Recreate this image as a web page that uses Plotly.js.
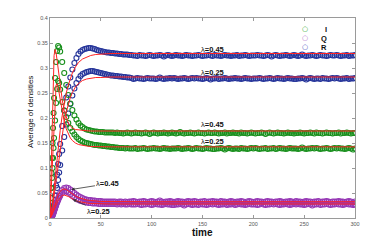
<!DOCTYPE html>
<html><head><meta charset="utf-8">
<script src="https://cdn.plot.ly/plotly-3.0.1.min.js"></script>
<style>html,body{margin:0;padding:0;background:#fff}#c{width:392px;height:245px}</style>
</head><body><div id="c"></div>
<script>
// simulation sampling times
const time = [0,0.5,1,1.5,2,2.5,3,3.5,4,5,
6,7,8,9,10,12,14,16,18,20,
22,24,26,28,30,32,34,36,38,40,
42,44,46,48,50,52,54,56,58,60,
62,64,66,68,70,72,74,76,78,80,
82,84,86,88,90,92,94,96,98,100,
102,104,106,108,110,112,114,116,118,120,
122,124,126,128,130,132,134,136,138,140,
142,144,146,148,150,152,154,156,158,160,
162,164,166,168,170,172,174,176,178,180,
182,184,186,188,190,192,194,196,198,200,
202,204,206,208,210,212,214,216,218,220,
222,224,226,228,230,232,234,236,238,240,
242,244,246,248,250,252,254,256,258,260,
262,264,266,268,270,272,274,276,278,280,
282,284,286,288,290,292,294,296,298,300];

// I simulation (lambda = 0.45 / 0.25)
const simI45 = [0.005,0.03,0.06,0.09,0.12,0.15,0.18,0.21,0.24,0.28,
0.312,0.334,0.344,0.341,0.333,0.312,0.29,0.266,0.246,0.229,
0.216,0.205,0.197,0.19,0.185,0.182,0.179,0.177,0.176,0.175,
0.174,0.173,0.173,0.172,0.172,0.172,0.171,0.171,0.171,0.171,
0.171,0.170,0.171,0.170,0.170,0.169,0.170,0.171,0.170,0.169,
0.170,0.171,0.170,0.170,0.169,0.170,0.171,0.170,0.168,0.170,
0.171,0.170,0.169,0.170,0.170,0.171,0.170,0.169,0.170,0.171,
0.170,0.169,0.170,0.172,0.170,0.169,0.170,0.170,0.171,0.170,
0.169,0.170,0.171,0.170,0.170,0.169,0.170,0.171,0.170,0.170,
0.171,0.170,0.169,0.170,0.170,0.171,0.169,0.170,0.170,0.171,
0.170,0.170,0.169,0.171,0.170,0.170,0.169,0.170,0.171,0.170,
0.169,0.170,0.170,0.171,0.170,0.168,0.170,0.171,0.170,0.169,
0.170,0.171,0.170,0.170,0.169,0.170,0.171,0.170,0.170,0.169,
0.170,0.170,0.171,0.170,0.169,0.170,0.170,0.171,0.170,0.169,
0.171,0.170,0.170,0.169,0.170,0.171,0.170,0.170,0.169,0.170,
0.170,0.171,0.169,0.170,0.170,0.171,0.170,0.169,0.170,0.170];
const simI25 = [0.005,0.02,0.04,0.06,0.08,0.10,0.12,0.14,0.16,0.195,
0.23,0.258,0.274,0.27,0.257,0.232,0.215,0.202,0.19,0.18,
0.173,0.167,0.162,0.158,0.155,0.153,0.151,0.15,0.149,0.148,
0.147,0.146,0.146,0.145,0.145,0.144,0.144,0.143,0.143,0.142,
0.142,0.141,0.141,0.140,0.140,0.140,0.139,0.140,0.139,0.139,
0.139,0.140,0.138,0.139,0.139,0.140,0.139,0.138,0.139,0.139,
0.140,0.139,0.139,0.138,0.139,0.140,0.139,0.139,0.138,0.139,
0.139,0.139,0.140,0.139,0.138,0.139,0.139,0.140,0.139,0.138,
0.139,0.140,0.139,0.139,0.138,0.139,0.140,0.139,0.139,0.138,
0.138,0.139,0.139,0.140,0.139,0.137,0.139,0.140,0.139,0.138,
0.139,0.139,0.138,0.140,0.139,0.139,0.138,0.139,0.140,0.139,
0.140,0.139,0.138,0.139,0.139,0.140,0.138,0.139,0.139,0.140,
0.138,0.139,0.140,0.139,0.139,0.138,0.139,0.140,0.139,0.139,
0.139,0.138,0.139,0.141,0.139,0.138,0.139,0.139,0.140,0.139,
0.140,0.139,0.138,0.139,0.139,0.140,0.139,0.138,0.139,0.140,
0.139,0.140,0.139,0.139,0.138,0.139,0.140,0.139,0.137,0.139];
// R simulation
const simR45 = [0,0.001,0.002,0.004,0.006,0.01,0.015,0.02,0.027,0.045,
0.065,0.087,0.108,0.128,0.148,0.184,0.215,0.241,0.263,0.281,
0.297,0.31,0.32,0.328,0.333,0.336,0.338,0.339,0.34,0.34,
0.339,0.338,0.336,0.335,0.334,0.333,0.332,0.331,0.331,0.33,
0.330,0.329,0.329,0.328,0.328,0.327,0.327,0.327,0.326,0.326,
0.325,0.325,0.324,0.326,0.325,0.325,0.324,0.325,0.326,0.325,
0.324,0.325,0.325,0.326,0.325,0.323,0.325,0.326,0.325,0.324,
0.325,0.326,0.325,0.325,0.324,0.325,0.326,0.325,0.325,0.324,
0.325,0.325,0.326,0.325,0.324,0.325,0.325,0.326,0.325,0.324,
0.326,0.325,0.325,0.324,0.325,0.326,0.325,0.325,0.324,0.325,
0.325,0.326,0.324,0.325,0.325,0.326,0.325,0.324,0.325,0.325,
0.325,0.326,0.325,0.325,0.324,0.325,0.326,0.325,0.323,0.325,
0.326,0.325,0.324,0.325,0.325,0.326,0.325,0.324,0.325,0.326,
0.325,0.324,0.325,0.327,0.325,0.324,0.325,0.325,0.326,0.325,
0.324,0.325,0.326,0.325,0.325,0.324,0.325,0.326,0.325,0.325,
0.326,0.325,0.324,0.325,0.325,0.326,0.324,0.325,0.325,0.326];
const simR25 = [0,0.001,0.001,0.002,0.003,0.005,0.008,0.012,0.017,0.03,
0.045,0.06,0.076,0.091,0.106,0.135,0.162,0.187,0.209,0.228,
0.245,0.259,0.27,0.278,0.284,0.288,0.29,0.292,0.293,0.294,
0.294,0.293,0.292,0.291,0.29,0.289,0.288,0.287,0.286,0.285,
0.285,0.284,0.284,0.283,0.283,0.282,0.282,0.281,0.281,0.280,
0.278,0.279,0.280,0.279,0.279,0.278,0.279,0.280,0.279,0.279,
0.279,0.278,0.279,0.281,0.279,0.278,0.279,0.279,0.280,0.279,
0.280,0.279,0.278,0.279,0.279,0.280,0.279,0.278,0.279,0.280,
0.279,0.280,0.279,0.279,0.278,0.279,0.280,0.279,0.277,0.279,
0.279,0.280,0.278,0.279,0.279,0.280,0.279,0.278,0.279,0.279,
0.280,0.279,0.279,0.278,0.279,0.280,0.279,0.279,0.278,0.279,
0.279,0.279,0.280,0.279,0.278,0.279,0.279,0.280,0.279,0.278,
0.279,0.280,0.279,0.279,0.278,0.279,0.280,0.279,0.279,0.278,
0.278,0.279,0.279,0.280,0.279,0.277,0.279,0.280,0.279,0.278,
0.279,0.279,0.278,0.280,0.279,0.279,0.278,0.279,0.280,0.279,
0.280,0.279,0.278,0.279,0.279,0.280,0.278,0.279,0.279,0.280];
// Q simulation
const simQ45 = [0,0.001,0.002,0.003,0.005,0.007,0.01,0.013,0.016,0.022,
0.028,0.034,0.04,0.045,0.05,0.056,0.06,0.061,0.06,0.057,
0.053,0.05,0.047,0.044,0.042,0.04,0.038,0.037,0.036,0.036,
0.035,0.035,0.034,0.034,0.034,0.033,0.033,0.033,0.033,0.033,
0.033,0.033,0.032,0.033,0.033,0.032,0.033,0.032,0.033,0.033,
0.034,0.033,0.032,0.033,0.033,0.034,0.033,0.032,0.033,0.034,
0.033,0.032,0.033,0.035,0.033,0.032,0.033,0.033,0.034,0.033,
0.032,0.033,0.034,0.033,0.033,0.032,0.033,0.034,0.033,0.033,
0.034,0.033,0.032,0.033,0.033,0.034,0.032,0.033,0.033,0.034,
0.033,0.033,0.032,0.034,0.033,0.033,0.032,0.033,0.034,0.033,
0.032,0.033,0.033,0.034,0.033,0.031,0.033,0.034,0.033,0.032,
0.033,0.034,0.033,0.033,0.032,0.033,0.034,0.033,0.033,0.032,
0.033,0.033,0.034,0.033,0.032,0.033,0.033,0.034,0.033,0.032,
0.034,0.033,0.033,0.032,0.033,0.034,0.033,0.033,0.032,0.033,
0.033,0.034,0.032,0.033,0.033,0.034,0.033,0.032,0.033,0.033,
0.033,0.034,0.033,0.033,0.032,0.033,0.034,0.033,0.031,0.033];
const simQ25 = [0,0.001,0.002,0.003,0.004,0.006,0.008,0.01,0.013,0.018,
0.024,0.03,0.035,0.04,0.044,0.05,0.053,0.053,0.051,0.048,
0.044,0.041,0.038,0.036,0.034,0.033,0.032,0.031,0.03,0.03,
0.029,0.029,0.029,0.028,0.028,0.028,0.028,0.028,0.028,0.028,
0.028,0.028,0.027,0.028,0.027,0.028,0.027,0.027,0.028,0.027,
0.027,0.027,0.028,0.027,0.026,0.027,0.027,0.028,0.027,0.026,
0.027,0.028,0.027,0.027,0.026,0.027,0.028,0.027,0.027,0.026,
0.026,0.027,0.027,0.028,0.027,0.025,0.027,0.028,0.027,0.026,
0.027,0.027,0.026,0.028,0.027,0.027,0.026,0.027,0.028,0.027,
0.028,0.027,0.026,0.027,0.027,0.028,0.026,0.027,0.027,0.028,
0.026,0.027,0.028,0.027,0.027,0.026,0.027,0.028,0.027,0.027,
0.027,0.026,0.027,0.029,0.027,0.026,0.027,0.027,0.028,0.027,
0.028,0.027,0.026,0.027,0.027,0.028,0.027,0.026,0.027,0.028,
0.027,0.028,0.027,0.027,0.026,0.027,0.028,0.027,0.025,0.027,
0.027,0.028,0.026,0.027,0.027,0.028,0.027,0.026,0.027,0.027,
0.028,0.027,0.027,0.026,0.027,0.028,0.027,0.027,0.026,0.027];

// mean-field theory curves
const thTime = [0,1,2,3,4,5,6,7,8,10,12,14,16,18,20,22,25,28,32,36,40,45,50,60,80,100,150,200,250,300];
const thI45 = [0.005,0.08,0.17,0.26,0.325,0.337,0.33,0.315,0.298,0.265,
0.237,0.215,0.2,0.19,0.184,0.18,0.177,0.176,0.175,0.1745,
0.174,0.174,0.174,0.174,0.174,0.174,0.174,0.174,0.174,0.174];
const thI25 = [0.005,0.05,0.1,0.15,0.2,0.24,0.266,0.269,0.262,0.238,
0.213,0.193,0.178,0.167,0.16,0.155,0.15,0.147,0.145,0.144,
0.143,0.1425,0.1423,0.1423,0.1423,0.1423,0.1423,0.1423,0.1423,0.1423];
const thR45 = [0,0.005,0.02,0.04,0.06,0.08,0.1,0.12,0.14,0.175,
0.205,0.23,0.25,0.266,0.279,0.29,0.302,0.311,0.318,0.322,
0.325,0.327,0.328,0.329,0.329,0.329,0.329,0.329,0.329,0.329];
const thR25 = [0,0.004,0.015,0.03,0.045,0.062,0.08,0.097,0.113,0.143,
0.17,0.193,0.212,0.228,0.241,0.251,0.262,0.269,0.275,0.278,
0.28,0.281,0.281,0.282,0.282,0.282,0.282,0.282,0.282,0.282];
const thQ45 = [0,0.003,0.008,0.014,0.021,0.028,0.035,0.041,0.046,0.053,
0.057,0.058,0.057,0.054,0.051,0.048,0.044,0.041,0.038,0.036,
0.035,0.034,0.033,0.033,0.0325,0.0325,0.0325,0.0325,0.0325,0.0325];
const thQ25 = [0,0.002,0.006,0.011,0.016,0.021,0.026,0.031,0.035,0.041,
0.045,0.046,0.045,0.043,0.041,0.038,0.035,0.033,0.031,0.03,
0.029,0.0285,0.028,0.028,0.028,0.028,0.028,0.028,0.028,0.028];

const legendNames = ['I','Q','R'];
const lambdaLabels = ['λ<b>=0.45</b>','λ<b>=0.25</b>'];
const xTicks = [0,50,100,150,200,250,300];
const yTicks = [0,0.05,0.1,0.15,0.2,0.25,0.3,0.35,0.4];
const yTickText = ['0','0.05','0.1','0.15','0.2','0.25','0.3','0.35','0.4'];

const colI = '#188f1c', colQ = '#9536b4', colR = '#25349a', colTh = '#ff2222';
function sim(y, c){ return {x: time, y: y, type:'scatter', mode:'markers', showlegend:false,
  marker:{symbol:'circle-open', size:5, color:c, line:{width:1.1, color:c}}, hoverinfo:'skip'}; }
function th(y){ return {x: thTime, y: y, type:'scatter', mode:'lines', showlegend:false,
  line:{color:colTh, width:1}, hoverinfo:'skip'}; }

const data = [sim(simR45,colR), sim(simR25,colR), sim(simI45,colI), sim(simI25,colI),
  sim(simQ45,colQ), sim(simQ25,colQ),
  th(thR45), th(thR25), th(thI45), th(thI25), th(thQ45), th(thQ25)];

const axBase = {showgrid:false, zeroline:false, showline:true, linecolor:'#9a9a9a', linewidth:1,
  mirror:'ticks', ticks:'inside', ticklen:3, tickcolor:'#9a9a9a',
  tickfont:{family:'Liberation Sans, Arial, sans-serif', size:5.5, color:'#555'}};

const ann = [];
const tf = {family:'Liberation Sans, Arial, sans-serif', size:7.5, color:'#111'};
ann.push({x:160, y:0.338, xref:'x', yref:'y', text:lambdaLabels[0], showarrow:false, font:tf});
ann.push({x:160, y:0.291, xref:'x', yref:'y', text:lambdaLabels[1], showarrow:false, font:tf});
ann.push({x:160, y:0.1876, xref:'x', yref:'y', text:lambdaLabels[0], showarrow:false, font:tf});
ann.push({x:160, y:0.154, xref:'x', yref:'y', text:lambdaLabels[1], showarrow:false, font:tf});
ann.push({x:21, y:0.057, xref:'x', yref:'y', axref:'x', ayref:'y', ax:57, ay:0.0686,
  text:lambdaLabels[0], showarrow:true, arrowhead:2, arrowsize:0.8, arrowwidth:0.8, arrowcolor:'#333', font:tf});
ann.push({x:22.5, y:0.037, xref:'x', yref:'y', axref:'x', ayref:'y', ax:48, ay:0.0136,
  text:lambdaLabels[1], showarrow:true, arrowhead:2, arrowsize:0.8, arrowwidth:0.8, arrowcolor:'#333', font:tf});
// axis titles
ann.push({xref:'paper', yref:'paper', x:0, y:0.53, xanchor:'center', yanchor:'middle', xshift:-20,
  text:'Average of densities', textangle:-90, showarrow:false,
  font:{family:'Liberation Sans, Arial, sans-serif', size:8, color:'#111'}});
ann.push({xref:'paper', yref:'paper', x:0.5, y:0, xanchor:'center', yanchor:'middle', yshift:-14,
  text:'<b>time</b>', showarrow:false,
  font:{family:'Liberation Sans, Arial, sans-serif', size:10, color:'#111'}});
// legend (drawn as annotations)
const legCols = ['#2aa82e', '#b070cc', '#3f4fc0'];
legendNames.forEach((n,i)=>{
  ann.push({xref:'paper', yref:'paper', x:(310-50)/305, y:1-(24+8.5*i-18.5)/200, text:'○', showarrow:false,
    font:{family:'DejaVu Sans', size:7, color:legCols[i]}});
  ann.push({xref:'paper', yref:'paper', x:(329-50)/305, y:1-(24+8.5*i-18.5)/200, text:'<b>'+n+'</b>', showarrow:false,
    font:{family:'Liberation Sans, Arial, sans-serif', size:7.5, color:'#111'}});
});

const layout = {width:392, height:245, margin:{l:50, r:37, t:18, b:27},
  paper_bgcolor:'#fff', plot_bgcolor:'#fff', showlegend:false,
  xaxis:Object.assign({}, axBase, {range:[0,300], tickvals:xTicks}),
  yaxis:Object.assign({}, axBase, {range:[0,0.4], tickvals:yTicks, ticktext:yTickText}),
  annotations:ann};

Plotly.newPlot('c', data, layout, {staticPlot:true, displayModeBar:false});
</script></body></html>
